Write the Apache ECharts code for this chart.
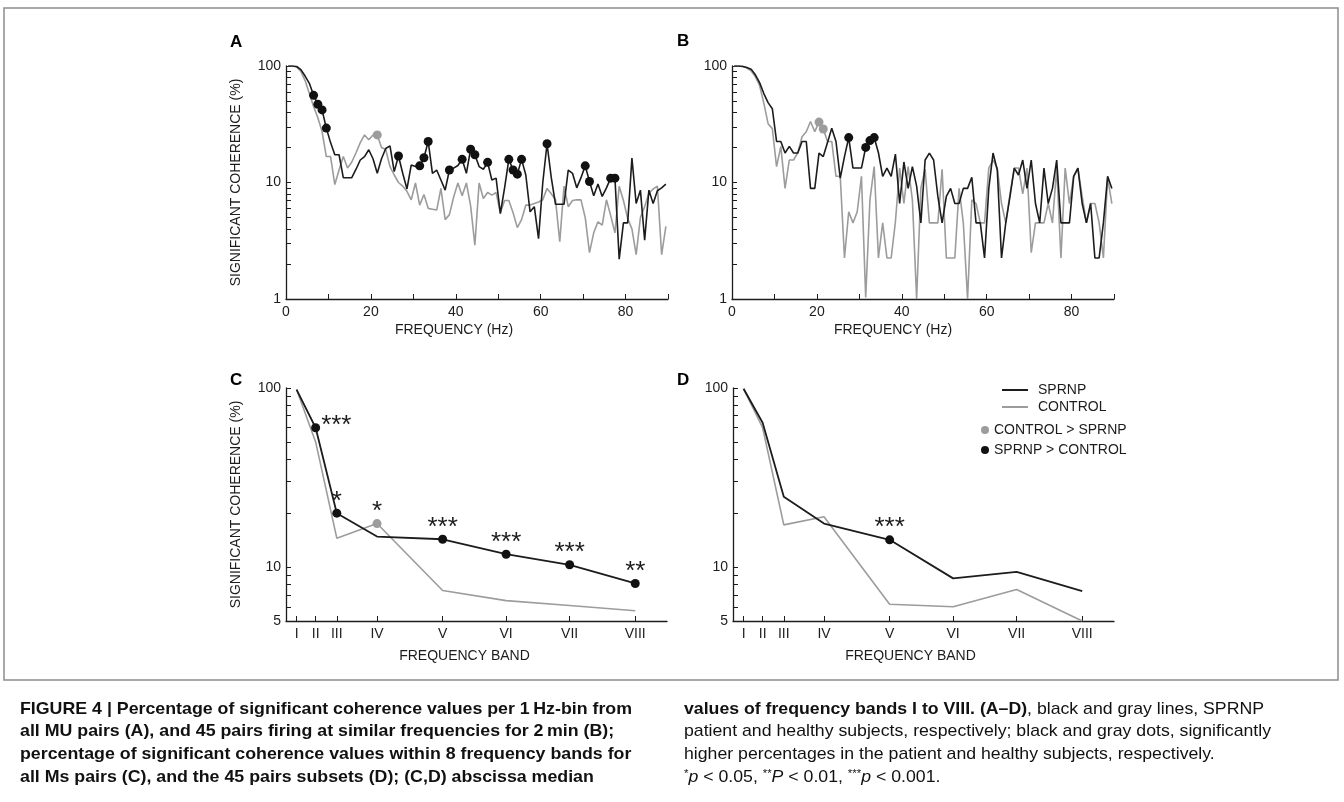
<!DOCTYPE html>
<html><head><meta charset="utf-8">
<script src="https://cdn.jsdelivr.net/npm/echarts@6/dist/echarts.min.js"></script>
<style>html,body{margin:0;padding:0;background:#fff}#c{width:1344px;height:802px}</style>
</head><body><div id="c"></div><script>
// ---------- DATA ----------
// centres of the 1 Hz bins (panels A and B)
const binHz = [0.5,1.5,2.5,3.5,4.5,5.5,6.5,7.5,8.5,9.5,10.5,11.5,12.5,13.5,14.5,15.5,16.5,17.5,18.5,19.5,
  20.5,21.5,22.5,23.5,24.5,25.5,26.5,27.5,28.5,29.5,30.5,31.5,32.5,33.5,34.5,35.5,36.5,37.5,38.5,39.5,
  40.5,41.5,42.5,43.5,44.5,45.5,46.5,47.5,48.5,49.5,50.5,51.5,52.5,53.5,54.5,55.5,56.5,57.5,58.5,59.5,
  60.5,61.5,62.5,63.5,64.5,65.5,66.5,67.5,68.5,69.5,70.5,71.5,72.5,73.5,74.5,75.5,76.5,77.5,78.5,79.5,
  80.5,81.5,82.5,83.5,84.5,85.5,86.5,87.5,88.5,89.5];
// Panel A (all MU pairs)
const sprnpA = [100,100,99,93,82,71,56,47,42,29.3, 22,17.3,17.3,11,11,11,13,15.6,16.7,19.1,
  16,12,16,19.6,20.6,12.4,16.9,12,8.8,14.1, 13.7,13.9,16.3,22.5,12,12.8,10.5,8.6,12.8,13.3,
  14,15.8,12,19.3,17.3,13.7,13,14.9,10.5,10.9, 5.4,9,15.8,12.8,11.8,15.8,11.6,5.6,6.2,3.3,
  10,21.5,11,6.5,6.5,6.5,12.8,12,9,11, 13.9,10.2,7.7,9.7,7.6,9,10.9,10.9,2.2,4.5,
  4.5,16.2,6.6,8.6,3.2,8.6,6.6,8.5,9,9.7];
const controlA = [100,100,98,90,75,58,45,36,27.4,16.7, 16.7,9.6,12.8,16.7,13.3,15,18,22,25.6,23.3,
  25.6,25.6,20,19.2,13.7,11.6,10,9.3,8.4,7.1, 9.9,6.4,7.9,6,5.9,5.8,8.9,4.8,5.3,7.5,
  9.9,7.7,9.9,6.3,2.9,9.9,7.3,8.2,7.8,8.2, 5.5,7,7,5.5,4.1,4.8,6.4,6.4,6.6,6.8,
  7.1,8.9,8,7.1,3.1,9.3,6.2,7,7.1,7.1, 5,2.5,3.7,4.6,4.3,7.1,5.2,3.7,9.3,7,
  4.9,4,2.4,5,6.2,8.1,8.8,9.3,2.4,4.2];
const sigSprnpA = [6,7,8,9,26,31,32,33,38,41,43,44,47,52,53,54,55,61,70,71,76,77];
const sigControlA = [21];
// Panel B (45 pairs)
const sprnpB = [100,100,99,97,94,84,72,58,48.5,43, 22.5,22.5,17.9,20.4,17.9,17.9,22.5,22.5,8.9,8.9,
  17.9,16.7,22,29.2,22.5,10.9,16.7,24.3,13.3,13.3, 13.3,20,22.9,24.3,18,11.3,13.3,11.3,17.5,6.6,
  15,8.9,13.7,9.3,4.5,15.6,17.9,15.6,7.6,4.5, 7.6,8.9,6.6,6.6,8.9,8.9,11.1,4.5,4.5,2.25,
  8.9,17.9,12.8,2.25,4.5,7.6,13.3,11.6,15.6,8.9, 15.6,6.6,4.5,13.3,6.6,8.9,15.6,4.5,4.5,4.5,
  11.3,13.3,6.6,4.5,6.6,2.25,2.25,4.5,11.3,8.9];
const controlB = [100,100,100,96,91,81,68,48,32,29, 13.7,20.4,8.9,15.6,15.6,18,24.7,27.3,33.4,27.3,
  33,28.8,22.5,22.5,11.3,11.3,2.25,5.6,4.5,5.6, 11.3,1.03,7.1,13.7,2.25,4.5,2.25,2.25,4.6,13.3,
  6.6,13.7,7.1,1.0,9,13,4.5,4.5,4.5,13, 2.25,2.25,2.25,8.9,4.5,1.0,7.1,6.6,4.5,4.5,
  13.3,15.6,13.3,6.6,4.5,8,13.3,13.3,8,13.3, 2.5,4.5,4.5,4.5,6.6,4.5,13.3,2.25,13.3,6.6,
  11.3,13.3,7.6,4.5,6.6,6.6,4.5,2.25,11,6.6];
const sigSprnpB = [27,31,32,33];
const sigControlB = [20,21];
// Panels C and D (8 frequency bands, abscissa = band median frequency)
const bandLabels = ['I','II','III','IV','V','VI','VII','VIII'];
const bandHz = [2.5, 7, 12, 21.5, 37, 52, 67, 82.5];
const sprnpC   = [98, 60, 20, 14.8, 14.3, 11.8, 10.3, 8.1];
const controlC = [98, 50, 14.5, 17.5, 7.4, 6.5, 6.1, 5.7];
const starsC   = ['', '***', '*', '*', '***', '***', '***', '**'];
const higherC  = ['', 'S', 'S', 'C', 'S', 'S', 'S', 'S'];
const sprnpD   = [99, 64, 24.7, 17.5, 14.2, 8.65, 9.4, 7.35];
const controlD = [99, 60, 17.2, 19.1, 6.2, 6.0, 7.5, 5.0];
const starsD   = ['', '', '', '', '***', '', '', ''];
const higherD  = ['', '', '', '', 'S', '', '', ''];
// axis ticks
const xLabelStepAB = 20;
const yTicksAB  = [1,2,3,4,5,6,7,8,9,10,20,30,40,50,60,70,80,90,100];
const yLabelsAB = [1,10,100];
const yTicksCD  = [5,6,7,8,9,10,20,30,40,50,60,70,80,90,100];
const yLabelsCD = [5,10,100];

// ---------- STYLE ----------
const FONT = '"Liberation Sans", Arial, Helvetica, sans-serif';
const INK = '#1c1c1c';
const GRAY = '#9c9c9c';
const txt = {color: INK, fontFamily: FONT, fontSize: 14};

const grids = [
  {left: 286, top: 66, width: 382, height: 233},
  {left: 732, top: 66, width: 382, height: 233},
  {left: 286, top: 388, width: 381, height: 233},
  {left: 733, top: 388, width: 381, height: 233}
].map(g => Object.assign({containLabel: false, outerBoundsMode: 'none'}, g));

function xFreq(gi, shift) {
  return {
    type: 'value', gridIndex: gi, min: 0, max: 90, interval: 10,
    axisLine: {show: true, onZero: false, lineStyle: {color: INK, width: 1.3}},
    axisTick: {show: true, inside: true, length: 5, lineStyle: {color: INK}},
    axisLabel: Object.assign({margin: 6, formatter: v => (v % xLabelStepAB === 0 ? String(v) : '')}, txt),
    splitLine: {show: false},
    name: 'FREQUENCY (Hz)', nameLocation: 'middle', nameGap: 24,
    nameTextStyle: Object.assign({padding: [0, shift, 0, 0]}, txt)
  };
}
function xBand(gi, shift) {
  return {
    type: 'value', gridIndex: gi, min: 0, max: 90,
    axisLine: {show: true, onZero: false, lineStyle: {color: INK, width: 1.3}},
    axisTick: {show: true, inside: true, length: 5, customValues: bandHz, lineStyle: {color: INK}},
    axisLabel: Object.assign({margin: 6, customValues: bandHz, formatter: v => {
      let best = 0; bandHz.forEach((b, i) => { if (Math.abs(b - v) < Math.abs(bandHz[best] - v)) best = i; });
      return bandLabels[best];
    }}, txt),
    splitLine: {show: false},
    name: 'FREQUENCY BAND', nameLocation: 'middle', nameGap: 28,
    nameTextStyle: Object.assign({padding: [0, shift, 0, 0]}, txt)
  };
}
function yLog(gi, min, ticks, labels, named) {
  return {
    type: 'log', logBase: 10, gridIndex: gi, min: min, max: 100,
    axisLine: {show: true, onZero: false, lineStyle: {color: INK, width: 1.3}},
    axisTick: {show: true, inside: true, length: 5, customValues: ticks, lineStyle: {color: INK}},
    axisLabel: Object.assign({margin: 5, customValues: labels}, txt),
    splitLine: {show: false}, minorTick: {show: false}, minorSplitLine: {show: false},
    name: named ? 'SIGNIFICANT COHERENCE (%)' : '', nameLocation: 'middle', nameGap: 43, nameRotate: 90,
    nameTextStyle: txt
  };
}

function lineSeries(name, gi, xs, ys, color, width, z) {
  return {type: 'line', name, xAxisIndex: gi, yAxisIndex: gi, data: xs.map((x, i) => [x, ys[i]]),
    symbol: 'none', lineStyle: {color, width}, itemStyle: {color}, z, silent: true};
}
function dotSeries(name, gi, pts, color, size) {
  return {type: 'scatter', name, xAxisIndex: gi, yAxisIndex: gi, data: pts, symbol: 'circle',
    symbolSize: size, itemStyle: {color, opacity: 1}, z: 6, silent: true};
}
function dotsFromIdx(idx, xs, ys) { return idx.map(i => [xs[i], ys[i]]); }
function bandDots(which, black, gray, stars, higher) {
  const out = [];
  higher.forEach((h, i) => {
    if (h !== which) return;
    const y = (h === 'S') ? black[i] : gray[i];
    const right = (i === 1);
    out.push({value: [bandHz[i], y], label: {show: true, formatter: stars[i],
      position: right ? 'right' : 'top', distance: right ? 1 : -6,
      color: INK, fontSize: 26, fontFamily: FONT, offset: right ? [0, -2] : [0, 0]}});
  });
  return out;
}

const series = [
  lineSeries('CONTROL', 0, binHz, controlA, GRAY, 1.6, 2),
  lineSeries('SPRNP', 0, binHz, sprnpA, INK, 1.6, 3),
  dotSeries('SPRNP > CONTROL', 0, dotsFromIdx(sigSprnpA, binHz, sprnpA), '#111', 9),
  dotSeries('CONTROL > SPRNP', 0, dotsFromIdx(sigControlA, binHz, controlA), GRAY, 9),
  lineSeries('CONTROL', 1, binHz, controlB, GRAY, 1.6, 2),
  lineSeries('SPRNP', 1, binHz, sprnpB, INK, 1.6, 3),
  dotSeries('SPRNP > CONTROL', 1, dotsFromIdx(sigSprnpB, binHz, sprnpB), '#111', 9),
  dotSeries('CONTROL > SPRNP', 1, dotsFromIdx(sigControlB, binHz, controlB), GRAY, 9),
  lineSeries('CONTROL', 2, bandHz, controlC, GRAY, 1.6, 2),
  lineSeries('SPRNP', 2, bandHz, sprnpC, INK, 1.8, 3),
  dotSeries('SPRNP > CONTROL', 2, bandDots('S', sprnpC, controlC, starsC, higherC), '#111', 9),
  dotSeries('CONTROL > SPRNP', 2, bandDots('C', sprnpC, controlC, starsC, higherC), GRAY, 9),
  lineSeries('CONTROL', 3, bandHz, controlD, GRAY, 1.6, 2),
  lineSeries('SPRNP', 3, bandHz, sprnpD, INK, 1.8, 3),
  dotSeries('SPRNP > CONTROL', 3, bandDots('S', sprnpD, controlD, starsD, higherD), '#111', 9)
];

// ---------- CAPTION (condensed look via measured horizontal scale) ----------
const mctx = document.createElement('canvas').getContext('2d');
function tw(font, s) { mctx.font = font; return mctx.measureText(s).width; }
const CAP_SIZE = 17;
const boldFont = 'bold ' + CAP_SIZE + 'px "Liberation Sans"';
const regFont = CAP_SIZE + 'px "Liberation Sans"';
const leftLines = [
  'FIGURE 4 | Percentage of significant coherence values per 1\u2009Hz-bin from',
  'all MU pairs (A), and 45 pairs firing at similar frequencies for 2\u2009min (B);',
  'percentage of significant coherence values within 8 frequency bands for',
  'all Ms pairs (C), and the 45 pairs subsets (D); (C,D) abscissa median'
];
const rightBold = 'values of frequency bands I to VIII. (A\u2013D)';
const rightLines = [
  '{b|' + rightBold + '}, black and gray lines, SPRNP',
  'patient and healthy subjects, respectively; black and gray dots, significantly',
  'higher percentages in the patient and healthy subjects, respectively.',
  '{s|*}{i|p} < 0.05, {s|**}{i|P} < 0.01, {s|***}{i|p} < 0.001.'
];
const leftScale = 612 / tw(boldFont, leftLines[0]);
const rightScale = 580 / (tw(boldFont, rightBold) + tw(regFont, ', black and gray lines, SPRNP'));
const capY = [709, 731, 754, 777];
const graphics = [
  {type: 'rect', shape: {x: 4, y: 8, width: 1334, height: 672}, style: {fill: 'none', stroke: '#8c8c8c', lineWidth: 1.5}, silent: true},
  {type: 'text', x: 230, y: 42, style: {text: 'A', font: 'bold 17px ' + FONT, fill: '#000', verticalAlign: 'middle'}},
  {type: 'text', x: 677, y: 41, style: {text: 'B', font: 'bold 17px ' + FONT, fill: '#000', verticalAlign: 'middle'}},
  {type: 'text', x: 230, y: 380, style: {text: 'C', font: 'bold 17px ' + FONT, fill: '#000', verticalAlign: 'middle'}},
  {type: 'text', x: 677, y: 380, style: {text: 'D', font: 'bold 17px ' + FONT, fill: '#000', verticalAlign: 'middle'}}
];
leftLines.forEach((s, i) => graphics.push({type: 'text', x: 20, y: capY[i], scaleX: leftScale, silent: true,
  style: {text: s, font: boldFont, fill: '#111', verticalAlign: 'middle'}}));
rightLines.forEach((s, i) => graphics.push({type: 'text', x: 684, y: capY[i], scaleX: rightScale, silent: true,
  style: {text: s, font: regFont, fill: '#111', verticalAlign: 'middle',
    rich: {b: {fontWeight: 'bold', fontSize: CAP_SIZE, fontFamily: '"Liberation Sans"', fill: '#111'},
           s: {fontSize: 11, fontFamily: '"Liberation Sans"', verticalAlign: 'top', fill: '#111'},
           i: {fontStyle: 'italic', fontSize: CAP_SIZE, fontFamily: '"Liberation Sans"', fill: '#111'}}}}));

const option = {
  animation: false,
  backgroundColor: '#fff',
  grid: grids,
  xAxis: [xFreq(0, 46), xFreq(1, 60), xBand(2, 24), xBand(3, 26)],
  yAxis: [yLog(0, 1, yTicksAB, yLabelsAB, true), yLog(1, 1, yTicksAB, yLabelsAB, false),
          yLog(2, 5, yTicksCD, yLabelsCD, true), yLog(3, 5, yTicksCD, yLabelsCD, false)],
  legend: [
    {data: [{name: 'SPRNP', icon: 'rect'}, {name: 'CONTROL', icon: 'rect'}], orient: 'vertical',
     left: 997, top: 378, itemWidth: 26, itemHeight: 2, itemGap: 3, selectedMode: false,
     textStyle: Object.assign({padding: [0, 0, 0, 5]}, txt)},
    {data: ['CONTROL > SPRNP', 'SPRNP > CONTROL'], orient: 'vertical', left: 976, top: 418, icon: 'circle',
     itemWidth: 8, itemHeight: 8, itemGap: 6, selectedMode: false, textStyle: txt}
  ],
  series: series,
  graphic: graphics
};
const chart = echarts.init(document.getElementById('c'), null, {renderer: 'canvas'});
chart.setOption(option);
</script></body></html>
